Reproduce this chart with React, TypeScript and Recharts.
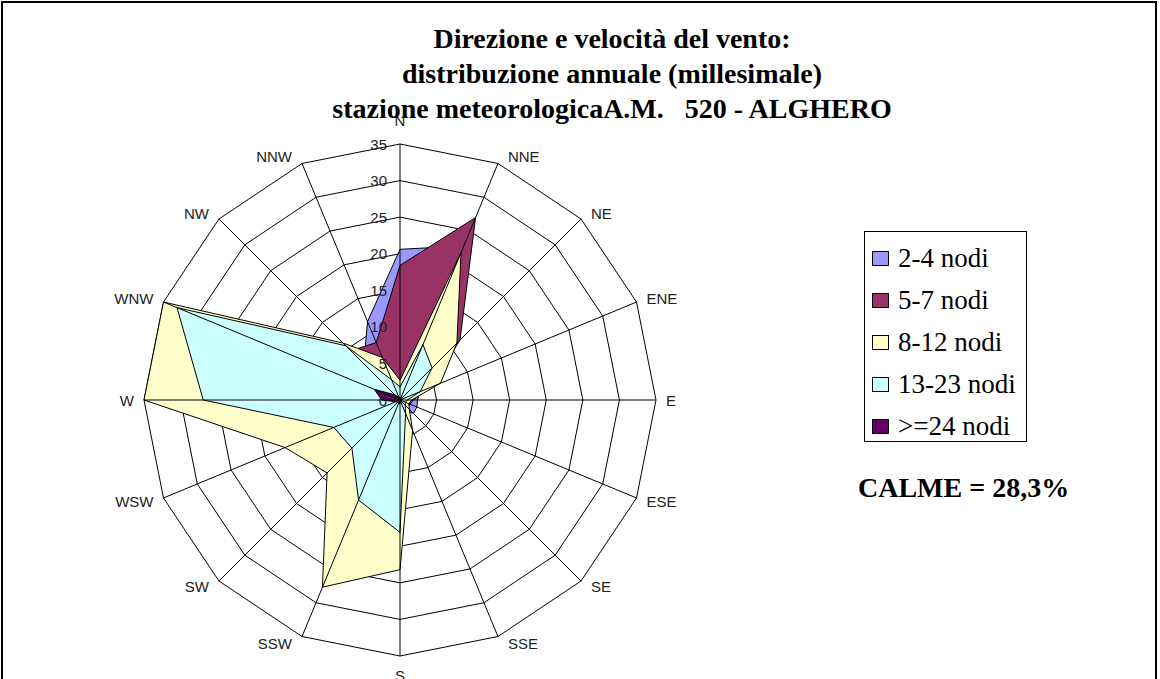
import { RadarChart, Radar, PolarGrid, PolarAngleAxis, PolarRadiusAxis } from 'recharts';

// wind directions, clockwise from north
const directions = ['N', 'NNE', 'NE', 'ENE', 'E', 'ESE', 'SE', 'SSE', 'S', 'SSW', 'SW', 'WSW', 'W', 'WNW', 'NW', 'NNW'];

// frequency per mille, one list per speed class
const nodi2_4 = [20.6, 22.8, 9.0, 3.0, 2.4, 2.5, 2.6, 1.6, 2.0, 2.2, 2.4, 2.6, 3.5, 5.0, 7.0, 11.6];
const nodi5_7 = [18.4, 27.0, 11.6, 4.5, 1.8, 1.5, 1.5, 2.5, 3.5, 3.5, 3.0, 3.5, 6.0, 8.0, 9.5, 8.5];
const nodi8_12 = [2.7, 21.8, 11.0, 6.0, 1.6, 1.3, 1.8, 4.5, 23.2, 27.7, 14.1, 17.0, 35.0, 35.0, 11.0, 6.3];
const nodi13_23 = [1.8, 8.2, 6.2, 3.0, 1.0, 0.8, 1.0, 2.0, 18.1, 14.8, 9.3, 9.8, 26.9, 33.0, 10.5, 3.0];
const nodi24 = [0.3, 0.4, 0.3, 0.3, 0.2, 0.2, 0.2, 0.3, 0.5, 0.5, 0.4, 0.6, 2.5, 3.8, 1.0, 0.4];

const seriesKeys = ['s0', 's1', 's2', 's3', 's4'];
const seriesNames = ['2-4 nodi', '5-7 nodi', '8-12 nodi', '13-23 nodi', '>=24 nodi'];
const seriesColors = ['#9999FF', '#993366', '#FFFFCC', '#CCFFFF', '#660066'];
const radiusTicks = [0, 5, 10, 15, 20, 25, 30, 35];

const titleLines = [
  'Direzione e velocità del vento:',
  'distribuzione annuale (millesimale)',
  'stazione meteorologicaA.M.   520 - ALGHERO',
];
const calmText = 'CALME = 28,3%';

const CX = 400;
const CY = 400;
const R = 256;

const data = directions.map((d, i) => ({
  dir: d,
  s0: nodi2_4[i],
  s1: nodi5_7[i],
  s2: nodi8_12[i],
  s3: nodi13_23[i],
  s4: nodi24[i],
}));

const serif = "'Liberation Serif', 'Times New Roman', serif";
const sans = "'Liberation Sans', Arial, sans-serif";

function AngleTick(props: any) {
  const { payload } = props;
  const a = (payload.coordinate * Math.PI) / 180;
  const cos = Math.cos(a);
  const sin = Math.sin(a);
  const ex = CX + R * cos;
  const ey = CY - R * sin;
  let x = ex;
  let y = ey;
  let anchor = 'middle';
  if (Math.abs(cos) < 0.01) {
    // N sits a bit higher than S in the original
    y = sin > 0 ? ey - 24 : ey + 19;
  } else {
    x = ex + Math.sign(cos) * 10;
    y = ey - sin * 8;
    anchor = cos > 0 ? 'start' : 'end';
  }
  return (
    <text x={x} y={y} textAnchor={anchor} dominantBaseline="central" fontFamily={sans} fontSize={15} fill="#222">
      {payload.value}
    </text>
  );
}

function RadiusTick(props: any) {
  const { y, payload } = props;
  return (
    <text x={CX - 13} y={y} textAnchor="end" dominantBaseline="central" fontFamily={sans} fontSize={15} fill="#222">
      {payload.value}
    </text>
  );
}

export default function App() {
  return (
    <div style={{ position: 'absolute', left: 0, top: 0, width: 1160, height: 679, overflow: 'hidden', background: '#fff' }}>
      {/* frame */}
      <div style={{ position: 'absolute', left: 1, top: 1, width: 1152, height: 720, border: '2px solid #000' }} />

      <div style={{ position: 'absolute', left: 0, top: 0 }}>
        <RadarChart width={1160} height={679} data={data} cx={CX} cy={CY} outerRadius={R} margin={{ top: 0, right: 0, bottom: 0, left: 0 }}>
          <PolarGrid gridType="polygon" radialLines={false} stroke="#000" strokeOpacity={1} />
          <PolarAngleAxis dataKey="dir" tick={AngleTick} tickLine={false} axisLine={false} />
          <PolarRadiusAxis
            angle={90}
            domain={[0, 35]}
            ticks={radiusTicks as any}
            tickCount={8}
            axisLine={false}
            tickLine={false}
            tick={RadiusTick}
          />
          {seriesKeys.map((k, i) => (
            <Radar
              key={k}
              name={seriesNames[i]}
              dataKey={k}
              fill={seriesColors[i]}
              fillOpacity={1}
              stroke="#000"
              strokeWidth={1}
              dot={false}
              isAnimationActive={false}
            />
          ))}
          {/* spokes sit on top of the filled areas, like in the original */}
          <PolarGrid gridType="polygon" radialLines={true} polarRadius={[]} stroke="#000" strokeOpacity={1} {...({ zIndex: 150 } as any)} />
        </RadarChart>
      </div>

      {/* title */}
      {titleLines.map((t, i) => (
        <div
          key={i}
          style={{
            position: 'absolute',
            left: 312,
            width: 600,
            top: 21 + i * 35,
            lineHeight: '35px',
            textAlign: 'center',
            fontFamily: serif,
            fontWeight: 'bold',
            fontSize: 28,
            whiteSpace: 'pre',
            color: '#000',
          }}
        >
          {t}
        </div>
      ))}

      {/* legend */}
      <div style={{ position: 'absolute', left: 864, top: 231, width: 161, height: 209, border: '1px solid #000', background: '#fff' }}>
        {seriesNames.map((n, i) => (
          <div
            key={n}
            style={{ position: 'absolute', left: 7, top: 11 + i * 42, height: 30, display: 'flex', alignItems: 'center' }}
          >
            <div style={{ width: 15, height: 13, border: '1px solid #000', background: seriesColors[i] }} />
            <span style={{ marginLeft: 9, fontFamily: serif, fontSize: 27, lineHeight: '30px', color: '#000', whiteSpace: 'pre' }}>{n}</span>
          </div>
        ))}
      </div>

      <div style={{ position: 'absolute', left: 858, top: 472, fontFamily: serif, fontWeight: 'bold', fontSize: 28, lineHeight: '32px', color: '#000' }}>
        {calmText}
      </div>
    </div>
  );
}
